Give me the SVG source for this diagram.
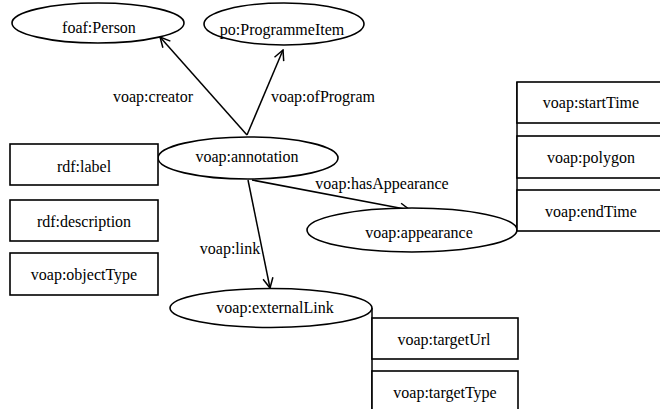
<svg xmlns="http://www.w3.org/2000/svg" width="660" height="409" viewBox="0 0 660 409">
<style>
text{font-family:'Liberation Serif','Times New Roman','DejaVu Serif',Times,serif;font-size:16px;fill:#000;text-anchor:middle}
.shape{fill:#fff;stroke:#000;stroke-width:1.6}
.edge{fill:none;stroke:#000;stroke-width:1.5}
</style>
<defs>
<marker id="arr" viewBox="0 0 12 12" refX="11" refY="6" markerWidth="12" markerHeight="12" markerUnits="userSpaceOnUse" orient="auto">
<path d="M1,1 L11,6 L1,11" fill="none" stroke="#000" stroke-width="1.5"/>
</marker>
</defs>
<rect width="660" height="409" fill="#fff"/>
<g id="connectors">
<line class="edge" x1="247" y1="135" x2="160" y2="37" marker-end="url(#arr)"/>
<line class="edge" x1="247" y1="135" x2="283" y2="50" marker-end="url(#arr)"/>
<line class="edge" x1="248" y1="180" x2="270" y2="288" marker-end="url(#arr)"/>
<line class="edge" x1="252" y1="180" x2="410" y2="210" marker-end="url(#arr)"/>
<line class="edge" x1="517" y1="82" x2="517" y2="231"/>
<line class="edge" x1="372" y1="308" x2="372" y2="409"/>
<text x="153" y="102" font-family="Liberation Serif, serif">voap:creator</text>
<text x="323" y="102" font-family="Liberation Serif, serif">voap:ofProgram</text>
<text x="230" y="254" font-family="Liberation Serif, serif">voap:link</text>
<text x="382" y="189" font-family="Liberation Serif, serif">voap:hasAppearance</text>
</g>
<g id="foafPerson">
<ellipse class="shape" cx="98" cy="23" rx="86" ry="20"/>
<text x="99" y="33" font-family="Liberation Serif, serif">foaf:Person</text>
</g>
<g id="poProgrammeItem">
<ellipse class="shape" cx="284" cy="24" rx="80" ry="21"/>
<text x="282" y="35" font-family="Liberation Serif, serif">po:ProgrammeItem</text>
</g>
<g id="annotation">
<ellipse class="shape" cx="248" cy="158" rx="90" ry="21"/>
<text x="247" y="162" font-family="Liberation Serif, serif">voap:annotation</text>
</g>
<g id="rdfLabel">
<rect class="shape" x="10" y="144" width="148" height="41"/>
<text x="84" y="172" font-family="Liberation Serif, serif">rdf:label</text>
</g>
<g id="rdfDescription">
<rect class="shape" x="10" y="200" width="148" height="41"/>
<text x="84" y="227" font-family="Liberation Serif, serif">rdf:description</text>
</g>
<g id="objectType">
<rect class="shape" x="10" y="253" width="148" height="42"/>
<text x="84" y="280" font-family="Liberation Serif, serif">voap:objectType</text>
</g>
<g id="appearance">
<ellipse class="shape" cx="412" cy="230" rx="105" ry="22"/>
<text x="419" y="238" font-family="Liberation Serif, serif">voap:appearance</text>
</g>
<g id="startTime">
<rect class="shape" x="517" y="82" width="150" height="41"/>
<text x="591" y="108" font-family="Liberation Serif, serif">voap:startTime</text>
</g>
<g id="polygon">
<rect class="shape" x="517" y="136" width="150" height="42"/>
<text x="591" y="163" font-family="Liberation Serif, serif">voap:polygon</text>
</g>
<g id="endTime">
<rect class="shape" x="517" y="190" width="150" height="41"/>
<text x="591" y="217" font-family="Liberation Serif, serif">voap:endTime</text>
</g>
<g id="externalLink">
<ellipse class="shape" cx="271" cy="308" rx="101" ry="19.5"/>
<text x="275" y="313" font-family="Liberation Serif, serif">voap:externalLink</text>
</g>
<g id="targetUrl">
<rect class="shape" x="372" y="318" width="146" height="41"/>
<text x="444" y="345" font-family="Liberation Serif, serif">voap:targetUrl</text>
</g>
<g id="targetType">
<rect class="shape" x="372" y="371" width="146" height="50"/>
<text x="445" y="398" font-family="Liberation Serif, serif">voap:targetType</text>
</g>
</svg>
